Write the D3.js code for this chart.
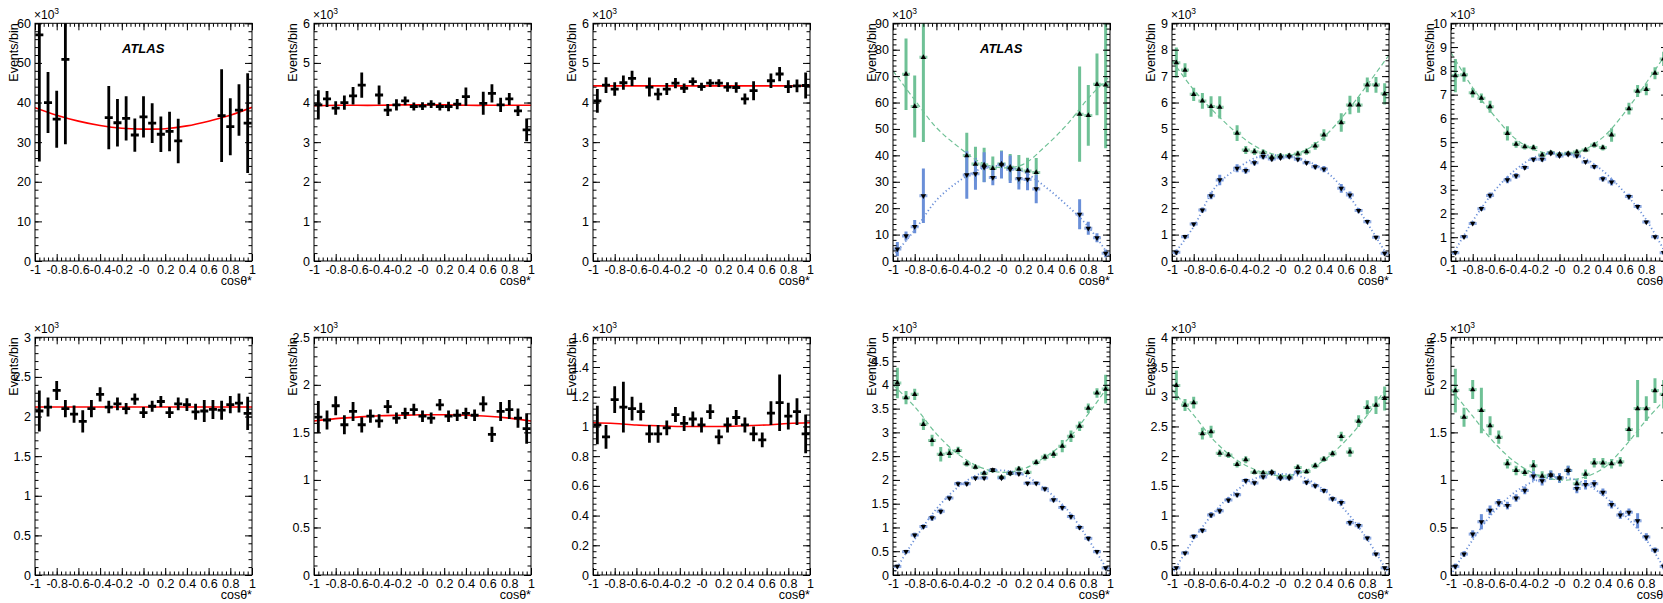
<!DOCTYPE html>
<html><head><meta charset="utf-8">
<script src="https://cdn.jsdelivr.net/npm/d3@7"></script>
<style>
body{margin:0;background:#fff;overflow:hidden;}
svg{display:block;}
</style>
</head><body>
<svg id="c" width="1663" height="603"></svg>
<script>
// ---------------- DATA ----------------
const binCenters = [-0.96,-0.88,-0.80,-0.72,-0.64,-0.56,-0.48,-0.40,-0.32,-0.24,-0.16,-0.08,0,0.08,0.16,0.24,0.32,0.40,0.48,0.56,0.64,0.72,0.80,0.88,0.96];
const fitX = [-1,-0.8,-0.6,-0.4,-0.2,0,0.2,0.4,0.6,0.8,1];
const xTickValues = [-1,-0.8,-0.6,-0.4,-0.2,0,0.2,0.4,0.6,0.8,1];
const xTickLabels = ["-1","-0.8","-0.6","-0.4","-0.2","-0","0.2","0.4","0.6","0.8","1"];

// Panel 1 (x10^3)
const p1Val = [57.1,40.0,35.8,50.9,null,null,null,null,36.2,34.9,36.0,31.8,36.4,34.8,32.0,32.7,30.3,null,null,null,null,36.7,33.9,38.1,34.8];
const p1Err = [32,7.7,7.2,21.4,null,null,null,null,8,6,5.6,4.2,5.2,5,4.5,5,5.6,null,null,null,null,11.7,7.2,6.5,12.6];
const p1Fit = [38.7,36.8,35.3,34.2,33.5,33.3,33.4,34.1,35.3,36.8,38.8];
const p1YTicks = [0,10,20,30,40,50,60];
// Panel 2
const p2Val = [3.94,4.09,3.86,4.00,4.17,4.44,null,4.19,3.81,3.94,4.04,3.90,3.91,3.96,3.90,3.90,3.96,4.15,null,3.98,4.23,3.94,4.09,3.79,3.31];
const p2Err = [0.37,0.20,0.17,0.18,0.22,0.32,null,0.24,0.15,0.14,0.11,0.10,0.10,0.10,0.10,0.12,0.13,0.23,null,0.29,0.23,0.18,0.15,0.13,0.29];
const p2Fit = [3.92,3.93,3.93,3.93,3.94,3.94,3.94,3.93,3.93,3.93,3.93];
const p2YTicks = [0,1,2,3,4,5,6];
// Panel 3
const p3Val = [4.04,4.44,4.34,4.50,4.61,null,4.39,4.21,4.34,4.49,4.36,4.53,4.40,4.49,4.49,4.39,4.38,4.09,4.30,null,4.55,4.72,4.40,4.42,4.43];
const p3Err = [0.30,0.20,0.17,0.18,0.19,null,0.24,0.15,0.15,0.13,0.12,0.10,0.10,0.10,0.10,0.12,0.13,0.14,0.24,null,0.18,0.18,0.16,0.16,0.33];
const p3Fit = [4.42,4.42,4.42,4.42,4.42,4.42,4.42,4.42,4.42,4.42,4.42];
const p3YTicks = [0,1,2,3,4,5,6];
// Panel 4
const g4Val = [null,70.7,58.5,77.1,null,null,null,null,39.9,36.7,36.4,35.1,36.8,35.5,34.7,34.1,33.5,null,null,null,null,55.6,55.1,66.9,66.7];
const g4Err = [null,13.5,11.7,32,null,null,null,null,8.7,6.6,6.5,4.5,5,5,5.4,5,5.5,null,null,null,null,18,11.5,11.7,24];
const b4Val = [4.5,9.5,13.0,24.7,null,null,null,null,32.6,33.0,35.5,31.6,36.4,34.7,31.1,30.9,27.3,null,null,null,null,17.7,12.4,8.8,2.9];
const b4Err = [2.7,1.7,2.5,10.3,null,null,null,null,9,6,5.7,2.9,5.2,5.2,4,4.1,5.4,null,null,null,null,5.7,2.5,1.7,1.5];
const g4Fit = [72,61,50.5,43.3,37.5,35.3,36.6,43.3,51.5,61.6,70];
const b4Fit = [1.9,11.7,23,30,34.7,36,33.8,28.2,21.2,13,1.4];
const p4YTicks = [0,10,20,30,40,50,60,70,80,90];
// Panel 5
const g5Val = [7.51,7.23,6.31,6.06,5.85,5.82,null,4.84,4.20,4.14,4.10,3.93,3.98,3.99,4.05,4.14,4.36,4.77,null,5.24,5.91,5.91,6.67,6.67,6.33];
const g5Err = [0.57,0.26,0.25,0.30,0.39,0.42,null,0.30,0.15,0.13,0.12,0.10,0.10,0.10,0.12,0.12,0.15,0.22,null,0.35,0.35,0.30,0.28,0.30,0.40];
const b5Val = [0.33,0.92,1.40,1.93,2.47,3.07,null,3.51,3.42,3.72,3.95,3.86,3.91,3.95,3.85,3.72,3.57,3.48,null,2.75,2.50,1.91,1.49,0.90,0.29];
const b5Err = [0.10,0.07,0.08,0.10,0.13,0.20,null,0.15,0.12,0.10,0.10,0.08,0.08,0.08,0.08,0.08,0.10,0.12,null,0.17,0.13,0.10,0.08,0.07,0.08];
const g5Fit = [7.6,6.48,5.6,4.84,4.27,4.0,4.14,4.7,5.6,6.67,7.8];
const b5Fit = [0.16,1.3,2.8,3.5,3.95,4.0,3.85,3.45,2.63,1.43,0.1];
const p5YTicks = [0,1,2,3,4,5,6,7,8,9];
// Panel 6
const g6Val = [7.80,7.84,7.08,6.85,6.49,null,5.37,4.91,4.81,4.77,4.46,4.56,4.49,4.53,4.59,4.67,4.88,4.77,5.30,null,6.41,7.15,7.22,7.90,8.5];
const g6Err = [0.7,0.3,0.2,0.2,0.25,null,0.3,0.15,0.12,0.12,0.12,0.1,0.1,0.1,0.1,0.1,0.12,0.12,0.28,null,0.25,0.25,0.25,0.25,0.3];
const b6Val = [0.35,1.02,1.58,2.20,2.76,null,3.41,3.58,3.93,4.28,4.28,4.53,4.42,4.49,4.42,4.17,3.97,3.46,3.32,null,2.71,2.29,1.64,1.02,0.35];
const b6Err = [0.08,0.07,0.08,0.1,0.12,null,0.14,0.12,0.1,0.1,0.1,0.08,0.08,0.08,0.08,0.08,0.1,0.12,0.14,null,0.12,0.1,0.08,0.07,0.08];
const g6Fit = [8.77,7.29,6.1,5.12,4.63,4.49,4.63,5.2,6.24,7.5,8.84];
const b6Fit = [0.14,1.68,2.95,3.86,4.42,4.53,4.39,3.79,2.88,1.73,0.14];
const p6YTicks = [0,1,2,3,4,5,6,7,8,9,10];
// Panel 7
const p7Val = [2.07,2.12,2.33,2.10,2.03,1.94,2.10,2.28,2.12,2.16,2.10,2.22,2.05,2.13,2.19,2.05,2.16,2.15,2.06,2.07,2.09,2.08,2.15,2.17,2.04];
const p7Err = [0.26,0.12,0.12,0.11,0.11,0.14,0.11,0.09,0.08,0.08,0.07,0.07,0.07,0.07,0.07,0.07,0.08,0.08,0.10,0.14,0.12,0.12,0.11,0.12,0.21];
const p7Fit = [2.12,2.12,2.12,2.12,2.12,2.12,2.12,2.12,2.12,2.12,2.12];
const p7YTicks = [0,0.5,1,1.5,2,2.5,3];
// Panel 8
const p8Val = [1.66,1.63,1.78,1.58,1.72,1.58,1.67,1.62,1.77,1.65,1.70,1.74,1.67,1.65,1.79,1.67,1.68,1.70,1.68,1.80,1.48,1.72,1.74,1.65,1.54];
const p8Err = [0.17,0.10,0.10,0.10,0.10,0.08,0.07,0.07,0.07,0.06,0.06,0.06,0.06,0.06,0.06,0.06,0.06,0.06,0.06,0.08,0.08,0.10,0.10,0.10,0.16];
const p8Fit = [1.62,1.645,1.66,1.675,1.68,1.685,1.685,1.68,1.67,1.65,1.62];
const p8YTicks = [0,0.5,1,1.5,2,2.5];
// Panel 9
const p9Val = [1.01,0.93,1.18,1.13,1.12,1.10,0.95,0.95,0.99,1.08,1.02,1.05,1.01,1.10,0.93,1.01,1.06,1.01,0.95,0.91,1.09,1.16,1.07,1.10,0.95];
const p9Err = [0.13,0.08,0.09,0.17,0.08,0.06,0.06,0.06,0.05,0.05,0.05,0.05,0.05,0.05,0.05,0.05,0.05,0.05,0.05,0.05,0.08,0.19,0.09,0.09,0.13];
const p9Fit = [1.025,1.02,1.01,1.005,1.0,1.0,1.0,1.005,1.01,1.02,1.025];
const p9YTicks = [0,0.2,0.4,0.6,0.8,1,1.2,1.4,1.6];
// Panel 10
const g10Val = [4.04,3.73,3.80,3.17,2.83,2.54,2.56,2.62,2.34,2.27,2.14,2.20,2.06,2.14,2.23,2.16,2.37,2.48,2.54,2.71,2.92,3.13,3.51,3.83,3.91];
const g10Err = [0.32,0.14,0.12,0.12,0.12,0.15,0.10,0.08,0.06,0.05,0.05,0.05,0.04,0.05,0.06,0.05,0.06,0.07,0.08,0.13,0.12,0.10,0.10,0.10,0.30];
const b10Val = [0.18,0.49,0.84,1.02,1.20,1.34,1.62,1.92,1.92,2.04,2.04,2.21,2.04,2.14,2.13,1.93,1.93,1.81,1.58,1.42,1.23,1.00,0.77,0.49,0.15];
const b10Err = [0.04,0.04,0.05,0.05,0.06,0.06,0.05,0.05,0.05,0.04,0.04,0.04,0.04,0.04,0.04,0.04,0.04,0.05,0.05,0.06,0.06,0.05,0.05,0.04,0.04];
const g10Fit = [4.0,3.54,2.97,2.54,2.27,2.16,2.23,2.48,2.83,3.39,4.03];
const b10Fit = [0.01,0.75,1.39,1.85,2.13,2.20,2.11,1.81,1.39,0.75,0.01];
const p10YTicks = [0,0.5,1,1.5,2,2.5,3,3.5,4,4.5,5];
// Panel 11
const g11Val = [3.19,2.86,2.90,2.38,2.41,2.05,2.02,1.86,1.94,1.73,1.72,1.73,1.65,1.65,1.81,1.74,1.84,1.95,2.04,2.33,2.07,2.59,2.82,2.86,2.97];
const g11Err = [0.25,0.10,0.10,0.10,0.10,0.06,0.05,0.05,0.06,0.04,0.04,0.04,0.04,0.04,0.05,0.04,0.05,0.05,0.05,0.08,0.08,0.10,0.12,0.15,0.20];
const b11Val = [0.12,0.37,0.65,0.75,1.01,1.08,1.26,1.35,1.59,1.55,1.65,1.72,1.63,1.63,1.73,1.56,1.50,1.42,1.28,1.22,0.88,0.83,0.62,0.35,0.12];
const b11Err = [0.03,0.03,0.04,0.04,0.05,0.05,0.05,0.04,0.04,0.04,0.04,0.04,0.04,0.04,0.04,0.04,0.04,0.04,0.04,0.05,0.05,0.05,0.04,0.03,0.03];
const g11Fit = [3.12,2.69,2.24,1.93,1.75,1.67,1.73,1.93,2.26,2.69,3.22];
const b11Fit = [0.01,0.6,1.08,1.43,1.65,1.70,1.65,1.43,1.08,0.6,0.01];
const p11YTicks = [0,0.5,1,1.5,2,2.5,3,3.5,4];
// Panel 12
const g12Val = [1.94,1.66,1.95,1.73,1.57,1.45,1.17,1.10,1.08,1.15,1.04,1.05,1.02,1.10,0.96,1.06,1.18,1.18,1.17,1.19,1.53,1.75,1.75,1.94,1.90];
const g12Err = [0.23,0.10,0.10,0.24,0.10,0.07,0.05,0.05,0.04,0.06,0.05,0.05,0.05,0.05,0.05,0.05,0.05,0.05,0.05,0.05,0.12,0.30,0.13,0.13,0.15];
const b12Val = [0.09,0.22,0.43,0.56,0.68,0.76,0.73,0.81,0.89,1.04,0.99,1.05,1.02,1.10,0.91,0.95,0.96,0.87,0.74,0.63,0.66,0.57,0.40,0.26,0.09];
const b12Err = [0.03,0.03,0.04,0.08,0.05,0.04,0.04,0.04,0.04,0.05,0.05,0.05,0.05,0.05,0.05,0.05,0.04,0.04,0.04,0.04,0.04,0.08,0.04,0.03,0.03];
const g12Fit = [1.95,1.67,1.39,1.18,1.05,1.0,1.02,1.12,1.35,1.63,1.88];
const b12Fit = [0,0.37,0.67,0.88,1.0,1.03,0.98,0.84,0.63,0.37,0];
const p12YTicks = [0,0.5,1,1.5,2,2.5];

// ---------------- LAYOUT ----------------
const FONT = "'Liberation Sans', Arial, Helvetica, sans-serif";
const GREEN = "#6fc196", BLUE = "#6a8fd8", RED = "#ff0000";
const colLefts = [35, 314, 593, 893, 1172, 1451];
const rowBoxes = [{top: 23.3, bottom: 261}, {top: 337.3, bottom: 575}];
const PW = 217;

const panels = [
  {type:"fit", val:p1Val, err:p1Err, fit:p1Fit, yTicks:p1YTicks, atlas:true},
  {type:"fit", val:p2Val, err:p2Err, fit:p2Fit, yTicks:p2YTicks},
  {type:"fit", val:p3Val, err:p3Err, fit:p3Fit, yTicks:p3YTicks},
  {type:"two", gv:g4Val, ge:g4Err, bv:b4Val, be:b4Err, gf:g4Fit, bf:b4Fit, yTicks:p4YTicks, atlas:true},
  {type:"two", gv:g5Val, ge:g5Err, bv:b5Val, be:b5Err, gf:g5Fit, bf:b5Fit, yTicks:p5YTicks},
  {type:"two", gv:g6Val, ge:g6Err, bv:b6Val, be:b6Err, gf:g6Fit, bf:b6Fit, yTicks:p6YTicks},
  {type:"fit", val:p7Val, err:p7Err, fit:p7Fit, yTicks:p7YTicks},
  {type:"fit", val:p8Val, err:p8Err, fit:p8Fit, yTicks:p8YTicks},
  {type:"fit", val:p9Val, err:p9Err, fit:p9Fit, yTicks:p9YTicks},
  {type:"two", gv:g10Val, ge:g10Err, bv:b10Val, be:b10Err, gf:g10Fit, bf:b10Fit, yTicks:p10YTicks},
  {type:"two", gv:g11Val, ge:g11Err, bv:b11Val, be:b11Err, gf:g11Fit, bf:b11Fit, yTicks:p11YTicks},
  {type:"two", gv:g12Val, ge:g12Err, bv:b12Val, be:b12Err, gf:g12Fit, bf:b12Fit, yTicks:p12YTicks}
];

const svg = d3.select("#c");

function points(vals, errs){
  return binCenters.map((c,i)=>({c, v:vals[i], e:errs[i]})).filter(d=>d.v!=null);
}

function drawBars(g, x, y, pts, color, sw, half, hOpacity){
  const gg = g.append("g");
  gg.selectAll("line.v").data(pts).join("line")
    .attr("x1", d=>x(d.c)).attr("x2", d=>x(d.c))
    .attr("y1", d=>y(d.v - d.e)).attr("y2", d=>y(d.v + d.e))
    .attr("stroke", color).attr("stroke-width", sw);
  gg.selectAll("line.h").data(pts).join("line")
    .attr("x1", d=>x(d.c - half)).attr("x2", d=>x(d.c + half))
    .attr("y1", d=>y(d.v)).attr("y2", d=>y(d.v))
    .attr("stroke", color).attr("stroke-width", sw).attr("stroke-opacity", hOpacity);
}

function drawCurve(g, x, y, ys, color, sw, dash){
  const line = d3.line().x(d=>x(d[0])).y(d=>y(d[1])).curve(d3.curveCatmullRom.alpha(0.5));
  g.append("path").datum(fitX.map((fx,i)=>[fx, ys[i]]))
    .attr("d", line).attr("fill","none").attr("stroke", color)
    .attr("stroke-width", sw).attr("stroke-dasharray", dash || null);
}

function minorTicks(step, max){
  const s = step/5, out = [];
  for(let k=0; k*s <= max + 1e-9; k++) out.push(+(k*s).toFixed(6));
  return out;
}

panels.forEach((p, idx) => {
  const row = Math.floor(idx/6), col = idx%6;
  const left = colLefts[col], top = rowBoxes[row].top, bottom = rowBoxes[row].bottom;
  const h = bottom - top;
  const yMax = p.yTicks[p.yTicks.length-1];
  const x = d3.scaleLinear().domain([-1,1]).range([0,PW]);
  const y = d3.scaleLinear().domain([0,yMax]).range([h,0]);
  const g = svg.append("g").attr("transform", `translate(${left},${top})`);
  const cid = "clip"+idx;
  g.append("clipPath").attr("id", cid).append("rect").attr("width", PW).attr("height", h);
  const plot = g.append("g").attr("clip-path", `url(#${cid})`);

  if(p.type === "fit"){
    drawCurve(plot, x, y, p.fit, RED, 1.6);
    drawBars(plot, x, y, points(p.val, p.err), "#000", 2.8, 0.037, 1);
  } else {
    const gp = points(p.gv, p.ge), bp = points(p.bv, p.be);
    drawBars(plot, x, y, gp, GREEN, 3, 0.037, 0.75);
    drawBars(plot, x, y, bp, BLUE, 3, 0.037, 0.75);
    drawCurve(plot, x, y, p.gf, GREEN, 1.2, "5,3");
    drawCurve(plot, x, y, p.bf, BLUE, 1.8, "1.2,2.6");
    plot.append("g").selectAll("path").data(gp).join("path")
      .attr("d", d3.symbol().type(d3.symbolTriangle).size(13))
      .attr("transform", d=>`translate(${x(d.c)},${y(d.v)})`).attr("fill","#000");
    plot.append("g").selectAll("path").data(bp).join("path")
      .attr("d", d3.symbol().type(d3.symbolTriangle).size(13))
      .attr("transform", d=>`translate(${x(d.c)},${y(d.v)}) rotate(180)`).attr("fill","#000");
  }

  // frame
  g.append("rect").attr("width", PW).attr("height", h).attr("fill","none").attr("stroke","#000").attr("stroke-width",1);

  const yStep = p.yTicks[1] - p.yTicks[0];
  const yMinor = minorTicks(yStep, yMax);
  const xMinor = d3.range(0, 51).map(k => +(-1 + k*0.04).toFixed(4));

  const style = sel => { sel.select(".domain").remove(); sel.selectAll("line").attr("stroke","#000"); sel.attr("font-family", FONT); };

  // bottom major with labels
  g.append("g").attr("transform", `translate(0,${h})`)
    .call(d3.axisBottom(x).tickValues(xTickValues).tickSize(-7).tickPadding(4).tickFormat((d,i)=>xTickLabels[i]))
    .call(style).attr("font-size", 12.5).selectAll("text").attr("fill","#000");
  g.append("g").attr("transform", `translate(0,${h})`)
    .call(d3.axisBottom(x).tickValues(xMinor).tickSize(-3.5).tickFormat("")).call(style);
  // top
  g.append("g").call(d3.axisTop(x).tickValues(xTickValues).tickSize(-7).tickFormat("")).call(style);
  g.append("g").call(d3.axisTop(x).tickValues(xMinor).tickSize(-3.5).tickFormat("")).call(style);
  // left with labels
  g.append("g")
    .call(d3.axisLeft(y).tickValues(p.yTicks).tickSize(-7).tickPadding(4).tickFormat(d=>String(d)))
    .call(style).attr("font-size", 12.5).selectAll("text").attr("fill","#000");
  g.append("g").call(d3.axisLeft(y).tickValues(yMinor).tickSize(-3.5).tickFormat("")).call(style);
  // right
  g.append("g").attr("transform", `translate(${PW},0)`)
    .call(d3.axisRight(y).tickValues(p.yTicks).tickSize(-7).tickFormat("")).call(style);
  g.append("g").attr("transform", `translate(${PW},0)`)
    .call(d3.axisRight(y).tickValues(yMinor).tickSize(-3.5).tickFormat("")).call(style);

  // x10^3
  const ex = g.append("text").attr("x", -1).attr("y", -4).attr("font-family", FONT).attr("font-size", 12).attr("fill","#000");
  ex.append("tspan").text("×10");
  ex.append("tspan").attr("dy", -5).attr("font-size", 8.5).text("3");

  // y label
  g.append("text").attr("transform", `translate(-17,0) rotate(-90)`)
    .attr("text-anchor","end").attr("font-family", FONT).attr("font-size", 12.5).attr("fill","#000")
    .text("Events/bin");
  // x label
  g.append("text").attr("x", PW).attr("y", h + 24.5).attr("text-anchor","end")
    .attr("font-family", FONT).attr("font-size", 12.5).attr("fill","#000").text("cosθ*");

  if(p.atlas){
    g.append("text").attr("x", 87).attr("y", 30).attr("font-family", FONT)
      .attr("font-size", 13).attr("font-weight","bold").attr("font-style","italic").attr("fill","#000").text("ATLAS");
  }
});
</script>
</body></html>
